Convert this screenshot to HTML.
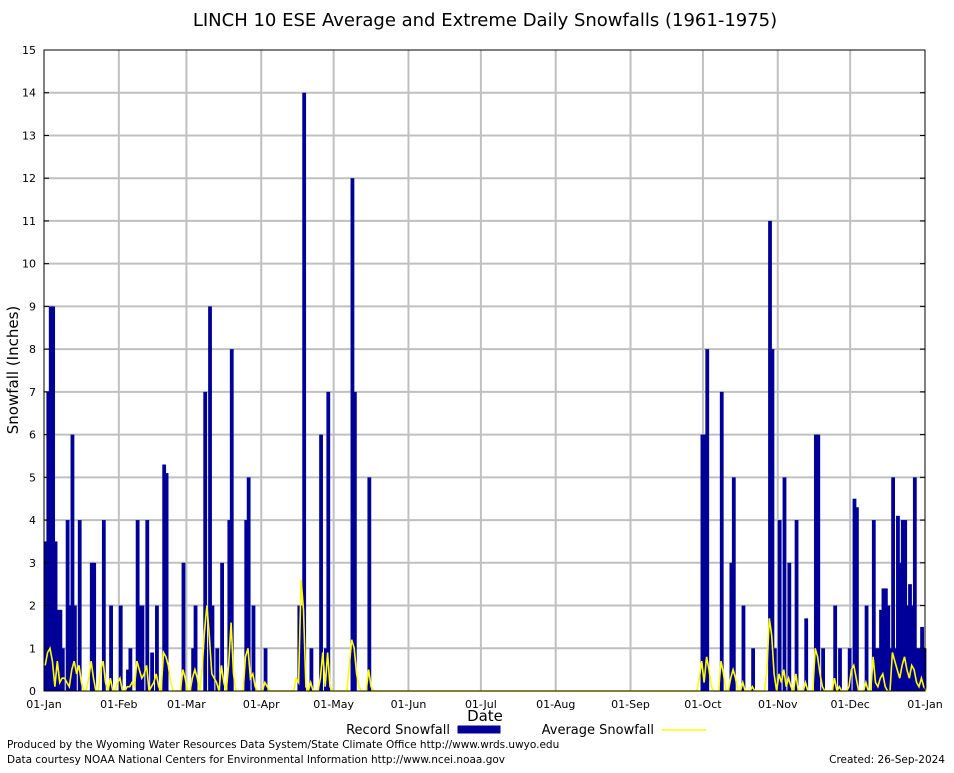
<!DOCTYPE html>
<html><head><meta charset="utf-8"><style>
body{margin:0;background:#fff;}
svg text{font-family:"DejaVu Sans","Liberation Sans",sans-serif;}
</style></head><body>
<svg id="c" width="954" height="768" xmlns="http://www.w3.org/2000/svg">
<rect width="954" height="768" fill="#fff"/>
<text x="485" y="26" font-size="18" text-anchor="middle">LINCH 10 ESE Average and Extreme Daily Snowfalls (1961-1975)</text>
<g id="grid"></g><g id="bars"></g><g id="avg"></g><g id="axes"></g>
<text x="18" y="370" font-size="15" text-anchor="middle" transform="rotate(-90 18 370)">Snowfall (Inches)</text>
<text x="485" y="721" font-size="15" text-anchor="middle">Date</text>
<g>
<text x="450" y="734" font-size="13" text-anchor="end">Record Snowfall</text>
<rect x="458" y="726" width="42" height="7" fill="#000099" stroke="#000099"/>
<text x="654" y="734" font-size="13" text-anchor="end">Average Snowfall</text>
<line x1="662" y1="730" x2="706" y2="730" stroke="#ffff00" stroke-width="1.5"/>
</g>
<text x="7" y="748" font-size="10.5">Produced by the Wyoming Water Resources Data System/State Climate Office http://www.wrds.uwyo.edu</text>
<text x="7" y="763" font-size="10.5">Data courtesy NOAA National Centers for Environmental Information http://www.ncei.noaa.gov</text>
<text x="945" y="763" font-size="10.5" text-anchor="end">Created:  26-Sep-2024</text>
</svg>
<script>
const monthLabels=["01-Jan","01-Feb","01-Mar","01-Apr","01-May","01-Jun","01-Jul","01-Aug","01-Sep","01-Oct","01-Nov","01-Dec","01-Jan"];
const monthDays=[0,31,59,90,120,151,181,212,243,273,304,334,365];
const yTicks=[0,1,2,3,4,5,6,7,8,9,10,11,12,13,14,15];
const recDays=[0,1,2,3,4,5,6,7,9,10,11,12,14,19,20,24,27,31,34,35,38,39,40,42,44,46,49,50,57,61,62,66,68,69,71,73,76,77,83,84,86,91,105,106,107,110,114,116,117,127,128,134,
272,273,274,280,284,285,289,293,300,301,302,304,306,308,311,315,319,320,322,327,329,333,335,336,340,343,344,345,346,347,348,349,350,351,352,353,354,355,356,357,358,359,360,361,362,363,364];
const recVals=[3.5,7,9,9,3.5,1.9,1.9,1,4,2,6,2,4,3,3,4,2,2,0.5,1,4,2,2,4,0.9,2,5.3,5.1,3,1,2,7,9,2,1,3,4,8,4,5,2,1,2,2,14,1,6,1,7,12,7,5,
6,6,8,7,3,5,2,1,11,8,1,4,5,3,4,1.7,6,6,1,2,1,1,4.5,4.3,2,4,1,1,1.9,2.4,2.4,2,1,5,1,4.1,3,4,4,2,2.5,2,5,1,1,1.5,1];
const avgDays=[0,1,2,3,4,5,6,7,8,9,10,11,12,13,14,15,18,19,20,23,24,25,27,30,31,34,35,36,37,38,39,40,41,42,44,45,46,47,49,50,51,52,57,58,61,62,63,65,66,67,68,69,70,71,73,74,76,77,78,83,84,85,86,87,91,92,
104,105,106,107,108,110,114,115,116,117,118,126,127,128,129,130,134,135,
271,272,273,274,275,276,280,281,284,285,286,289,293,299,300,301,302,304,305,306,307,308,309,311,315,319,320,321,322,327,329,333,334,335,336,340,343,344,345,346,347,348,351,352,353,354,355,356,357,358,359,360,361,362,363,364];
const avgVals=[.6,.9,1.0,.7,.1,.7,.2,.3,.3,.2,.1,.5,.7,.4,.6,.2,.3,.7,.3,.5,.7,.2,.3,.2,.3,.1,.1,.2,.1,.7,.5,.3,.4,.6,.1,.2,.4,.1,.9,.8,.6,.2,.5,.3,.3,.5,.3,.5,1.4,2.0,1.3,.4,.3,.2,.6,.2,.6,1.6,.4,.8,1.0,.3,.4,.1,.2,.1,
.3,.2,2.6,1.9,.1,.2,.3,.9,.1,.9,.1,.6,1.2,1.0,.4,.1,.5,.1,
.3,.7,.2,.8,.5,.1,.7,.4,.3,.5,.3,.2,.1,.5,1.7,1.3,.4,.4,.2,.5,.1,.3,.1,.4,.2,1.0,.8,.4,.1,.3,.1,.1,.5,.6,.3,.2,.8,.2,.1,.3,.4,.1,.9,.7,.5,.3,.6,.8,.5,.3,.6,.5,.2,.1,.3,.1];

const X0=44,X1=925,Y0=691,Y1=50,NS="http://www.w3.org/2000/svg";
const xs=d=>X0+(X1-X0)*d/365, ys=v=>Y0-(Y0-Y1)*v/15;
function mk(t,a,p){const e=document.createElementNS(NS,t);for(const k in a)e.setAttribute(k,a[k]);p.appendChild(e);return e;}
const grid=document.getElementById('grid'),bars=document.getElementById('bars'),avg=document.getElementById('avg'),axes=document.getElementById('axes');
yTicks.forEach(v=>{
 if(v>0&&v<15){const l=mk('line',{x1:X0,x2:X1,y1:ys(v),y2:ys(v),stroke:'#c0c0c0','stroke-width':2},grid);
 
 }
 const t=mk('text',{x:36,y:ys(v)+4,'font-size':11,'text-anchor':'end'},axes);t.textContent=v;
 
 
 mk('line',{x1:X0,x2:X0+5,y1:ys(v),y2:ys(v),stroke:'#000'},axes);
 mk('line',{x1:X1-5,x2:X1,y1:ys(v),y2:ys(v),stroke:'#000'},axes);
});
monthDays.forEach((d,i)=>{
 if(i>0&&i<12){const l=mk('line',{x1:xs(d),x2:xs(d),y1:Y1,y2:Y0,stroke:'#c0c0c0','stroke-width':2},grid);
 
 }
 const t=mk('text',{x:xs(d),y:708,'font-size':11,'text-anchor':'middle'},axes);t.textContent=monthLabels[i];
 
 
});
const bw=(X1-X0)/365;
recDays.forEach((d,i)=>{
 const r=mk('rect',{x:xs(d),y:ys(recVals[i]),width:3.8,height:Y0-ys(recVals[i]),fill:'#000099'},bars);
 
 
});
const daily=new Array(366).fill(0);
avgDays.forEach((d,i)=>{daily[d]=avgVals[i];});
let pts=[];daily.forEach((v,d)=>pts.push((xs(d)+bw/2).toFixed(1)+','+ys(v).toFixed(1)));
const pl=mk('polyline',{points:pts.join(' '),fill:'none',stroke:'#ffff00','stroke-width':1.6},avg);


const fr=mk('rect',{x:X0,y:Y1,width:X1-X0,height:Y0-Y1,fill:'none',stroke:'#000','stroke-width':1},axes);


</script>
</body></html>
